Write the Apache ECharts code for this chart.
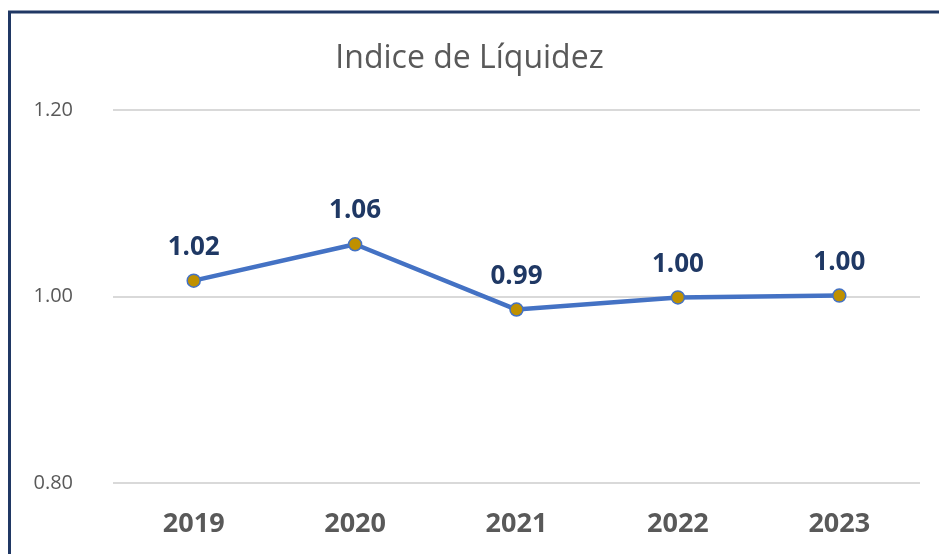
<!DOCTYPE html>
<html><head><meta charset="utf-8">
<script src="https://cdn.jsdelivr.net/npm/echarts@6/dist/echarts.min.js"></script>
<style>html,body{margin:0;padding:0;background:#fff}#c{width:939px;height:554px}</style>
</head><body><div id="c"></div>
<script>
const categories = ['2019','2020','2021','2022','2023'];
const values = [1.017, 1.056, 0.986, 0.999, 1.001];
const yTicks = [0.80, 1.00, 1.20];
const titleText = 'Indice de Líquidez';

const chart = echarts.init(document.getElementById('c'));
chart.setOption({
  backgroundColor: '#fff',
  animation: false,
  title: {
    text: titleText, left: 'center', top: 38,
    textStyle: {fontFamily: 'Open Sans', fontSize: 32, fontWeight: 'normal', color: '#595959'}
  },
  graphic: [{
    type: 'rect', shape: {x: 9.5, y: 12, width: 1000, height: 1000},
    style: {fill: 'none', stroke: '#203864', lineWidth: 3}, z: 100
  }],
  grid: {left: 113, right: 19, top: 110, bottom: 71},
  xAxis: {
    type: 'category', data: categories, boundaryGap: true,
    axisLine: {show: false}, axisTick: {show: false},
    axisLabel: {fontFamily: 'Open Sans', fontSize: 27, fontWeight: 'bold', color: '#595959', margin: 28}
  },
  yAxis: {
    type: 'value', min: yTicks[0], max: yTicks[yTicks.length-1], interval: 0.2,
    axisLine: {show: false}, axisTick: {show: false},
    splitLine: {lineStyle: {color: '#d9d9d9', width: 2}},
    axisLabel: {fontFamily: 'Open Sans', fontSize: 20, color: '#595959', margin: 40,
      formatter: v => v.toFixed(2)}
  },
  series: [{
    type: 'line', data: values,
    lineStyle: {color: '#4472C4', width: 4.5},
    symbol: 'circle', symbolSize: 13,
    itemStyle: {color: '#BF9000', borderColor: '#4472C4', borderWidth: 1.5},
    label: {show: true, position: 'top', distance: 13,
      fontFamily: 'Open Sans', fontSize: 26, fontWeight: 'bold', color: '#1F3864',
      formatter: p => p.value.toFixed(2)}
  }]
});
</script></body></html>
